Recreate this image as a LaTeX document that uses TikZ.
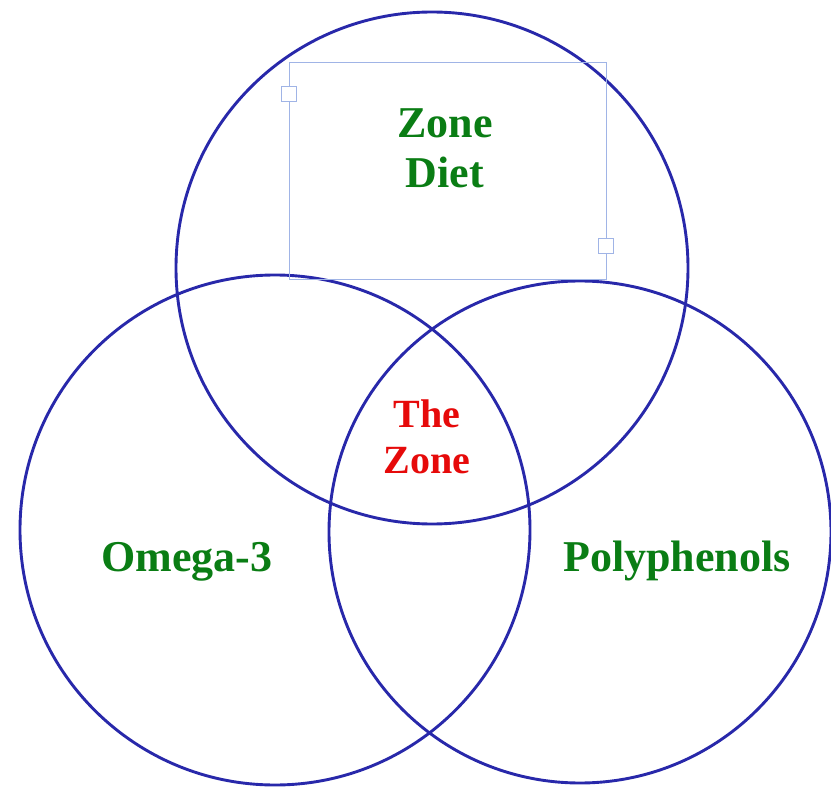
\documentclass[tikz,border=0pt]{standalone}
\usepackage{fontspec}
\setmainfont{Liberation Serif}
\definecolor{vblue}{RGB}{40,40,170}
\definecolor{vgreen}{RGB}{10,125,20}
\definecolor{vred}{RGB}{230,10,10}
\definecolor{selblue}{RGB}{160,180,230}
\begin{document}
\begin{tikzpicture}[x=1pt,y=-1pt,
  venn/.style={circle, draw=vblue, line width=2.9pt, minimum size=#1, inner sep=0pt},
  lbl/.style={text=vgreen, font=\bfseries\fontsize{44}{50}\selectfont, inner sep=0pt, align=center},
  core/.style={text=vred, font=\bfseries\fontsize{40}{46}\selectfont, inner sep=0pt, align=center},
  handle/.style={draw=selblue, fill=white, line width=1.2pt, minimum size=15pt, inner sep=0pt}]
\useasboundingbox[fill=white] (0,0) rectangle (831,789);
\node[venn=512pt] (ctop) at (432,268) {};
\node[venn=510pt] (cleft) at (275,530) {};
\node[venn=502pt] (cright) at (580,532) {};
\node[draw=selblue, line width=0.9pt, minimum width=317pt, minimum height=217pt, inner sep=0pt] (sel) at (447.5,170.5) {};
\node[handle] (h1) at (289,94) {};
\node[handle] (h2) at (606,246) {};
\node[lbl] (zd) at (445,148) {Zone\\Diet};
\node[core] (tz) at (427,437) {The\\Zone};
\node[lbl, anchor=base] (om) at (187,571) {Omega-3};
\node[lbl, anchor=base] (pp) at (677,571) {Polyphenols};
\end{tikzpicture}
\end{document}
